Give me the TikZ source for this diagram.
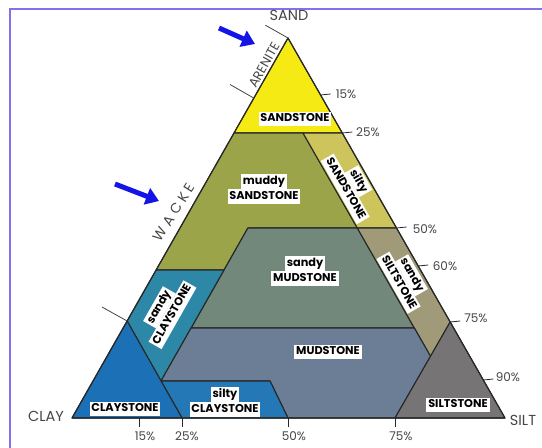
\documentclass[tikz,border=0pt]{standalone}
\usepackage{fontspec}
\setmainfont{Poppins}
\newfontfamily\spacedfont{Poppins}[LetterSpace=28]
\usetikzlibrary{arrows.meta}

\definecolor{framec}{RGB}{128,114,232}
\definecolor{edgec}{RGB}{40,40,40}
\definecolor{axisc}{RGB}{70,70,70}
\definecolor{arrowc}{RGB}{20,20,230}
\definecolor{cSandstone}{RGB}{246,234,20}
\definecolor{cMuddySand}{RGB}{156,164,74}
\definecolor{cSiltySand}{RGB}{206,196,92}
\definecolor{cSandyMud}{RGB}{114,136,122}
\definecolor{cSandySilt}{RGB}{160,154,120}
\definecolor{cMud}{RGB}{108,126,150}
\definecolor{cSilt}{RGB}{118,116,116}
\definecolor{cClay}{RGB}{28,112,182}
\definecolor{cSandyClay}{RGB}{44,136,166}
\definecolor{cSiltyClay}{RGB}{36,120,182}

\setlength{\fboxsep}{1.8pt}
% one white box per line of a field label
\newcommand{\wbox}[1]{\colorbox{white}{\vphantom{Ady}#1}}
\newcommand{\tightlines}{\lineskip=0pt\relax\lineskiplimit=0pt\relax}

\begin{document}
\begin{tikzpicture}[x=1pt,y=-1pt,
  zone/.style={draw=edgec, line width=1.1pt, line join=round},
  lbl/.style={font=\bfseries\fontsize{11.3}{11}\selectfont\tightlines,
              text=black, inner sep=0pt, align=center},
  axislbl/.style={font=\fontsize{14.5}{14.5}\selectfont, text=axisc, inner sep=0pt},
  pct/.style={font=\fontsize{12}{12}\selectfont, text=axisc, inner sep=0pt},
  tick/.style={draw=edgec, line width=0.8pt},
  bracket/.style={draw=axisc, line width=0.8pt},
  bluearrow/.style={draw=arrowc, line width=5pt, -{Triangle[length=13pt,width=17pt]}}]

\useasboundingbox (0,0) rectangle (542,448);
\fill[white] (0,0) rectangle (542,448);

% frame
\draw[framec, line width=2pt] (9.5,448) -- (9.5,8.5) -- (542,8.5);

% corners of the ternary plot
\coordinate (sand) at (288,38);
\coordinate (clay) at (72,418);
\coordinate (silt) at (505,418);

% boundary points
\coordinate (s1l) at (234,133);
\coordinate (s1m) at (303,133);
\coordinate (s1r) at (342.3,133);
\coordinate (s2l) at (247.9,228);
\coordinate (s2m) at (357.3,228);
\coordinate (s2r) at (396.5,228);
\coordinate (c1l) at (156.1,270);
\coordinate (c1r) at (224,270);
\coordinate (capx) at (127.1,321);
\coordinate (cbr) at (182,418);
\coordinate (cmeet) at (161,381);
\coordinate (scr) at (270,381);
\coordinate (scb) at (288,418);
\coordinate (m1l) at (191.1,328);
\coordinate (m1r) at (414.3,328);
\coordinate (sapx) at (450.2,322);
\coordinate (smeet) at (430.5,356.3);
\coordinate (sbl) at (395,418);

% fields
\filldraw[zone, fill=cSandstone] (sand) -- (s1r) -- (s1l) -- cycle;
\filldraw[zone, fill=cMuddySand] (s1l) -- (s1m) -- (s2m) -- (s2l) -- (c1r) -- (c1l) -- cycle;
\filldraw[zone, fill=cSiltySand] (s1m) -- (s1r) -- (s2r) -- (s2m) -- cycle;
\filldraw[zone, fill=cSandyMud] (s2l) -- (s2m) -- (m1r) -- (m1l) -- cycle;
\filldraw[zone, fill=cSandySilt] (s2m) -- (s2r) -- (sapx) -- (smeet) -- cycle;
\filldraw[zone, fill=cSandyClay] (c1l) -- (c1r) -- (cmeet) -- (capx) -- cycle;
\filldraw[zone, fill=cMud] (m1l) -- (m1r) -- (smeet) -- (sbl) -- (scb) -- (scr) -- (cmeet) -- cycle;
\filldraw[zone, fill=cSiltyClay] (cmeet) -- (scr) -- (scb) -- (cbr) -- cycle;
\filldraw[zone, fill=cClay] (clay) -- (cbr) -- (capx) -- cycle;
\filldraw[zone, fill=cSilt] (sapx) -- (silt) -- (sbl) -- cycle;
\draw[zone, fill=none] (sand) -- (silt) -- (clay) -- cycle;

% field labels
\node[lbl] (lSandstone) at (295,119) {\wbox{SANDSTONE}};
\node[lbl] (lMuddy) at (264,189) {\wbox{muddy}\\\wbox{SANDSTONE}};
\node[lbl, rotate=-60.3] (lSilty) at (352,185) {\wbox{silty}\\\wbox{SANDSTONE}};
\node[lbl] (lSandyMud) at (305,271) {\wbox{sandy}\\\wbox{MUDSTONE}};
\node[lbl, rotate=-60.3] (lSandySilt) at (405,279) {\wbox{sandy}\\\wbox{SILTSTONE}};
\node[lbl, rotate=60.4] (lSandyClay) at (166,311) {\wbox{sandy}\\\wbox{CLAYSTONE}};
\node[lbl] (lMud) at (328,352) {\wbox{MUDSTONE}};
\node[lbl] (lClay) at (125,409) {\wbox{CLAYSTONE}};
\node[lbl] (lSiltyClay) at (225,402) {\wbox{silty}\\\wbox{CLAYSTONE}};
\node[lbl] (lSilt) at (458,405) {\wbox{SILTSTONE}};

% end members
\node[axislbl] (tSand) at (289,15) {SAND};
\node[axislbl] (tClay) at (46,416) {CLAY};
\node[axislbl] (tSilt) at (523,420) {SILT};

% arenite / wacke brackets along the sand--clay side
\coordinate (b1) at (265.4,25.2);
\coordinate (b2e) at (253.7,98);
\coordinate (b2) at (230,84.5);
\coordinate (b3) at (102,307);
\draw[bracket] (sand) -- (b1);
\draw[bracket] (b2e) -- (b2);
\draw[bracket] (capx) -- (b3);
\node[font=\fontsize{13}{13}\selectfont, text=axisc, rotate=60.4, inner sep=0pt] (tAren) at (264,65) {ARENITE};
\node[font=\spacedfont\fontsize{14}{14}\selectfont, text=axisc, rotate=58, inner sep=0pt] (tWacke) at (174,212) {WACKE};

% pointers
\coordinate (a1s) at (219,28);
\coordinate (a1e) at (255,44);
\coordinate (a2s) at (115,184);
\coordinate (a2e) at (159,201);
\draw[bluearrow] (a1s) -- (a1e);
\draw[bluearrow] (a2s) -- (a2e);

% ticks on the sand--silt side
\foreach \ex/\ey/\tx/\ty/\txt in {320.6/95/346/94/15\%, 342.3/133/368/132/25\%,
    396.5/228/425/229/50\%, 418.2/266/445/266/60\%, 450.2/322/476/318/75\%,
    483.3/380/508/377/90\%}{
  \draw[tick] (\ex,\ey) -- ++(10,-1);
  \node[pct] at (\tx,\ty) {\txt};
}

% ticks on the clay--silt side
\foreach \bx/\lx/\txt in {139/145/15\%, 182/187/25\%, 288/294/50\%, 395/401/75\%}{
  \draw[tick] (\bx,418) -- (\bx,427);
  \node[pct] at (\lx,436) {\txt};
}
\end{tikzpicture}
\end{document}
